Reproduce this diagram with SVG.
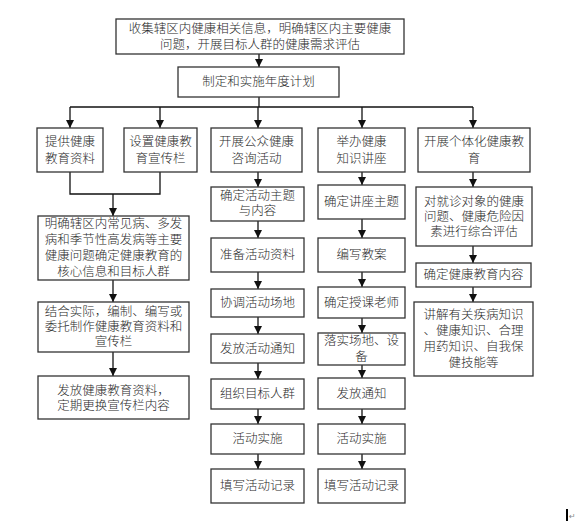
<svg xmlns="http://www.w3.org/2000/svg" width="578" height="522" viewBox="0 0 578 522">
<defs>
<style>
.b{fill:#fff;stroke:#333;stroke-width:1.3}
.t{font-family:"Liberation Serif","Noto Sans CJK SC",serif;font-size:12.5px;font-weight:300;fill:#2a2a2a;text-anchor:middle;dominant-baseline:central}
.c{fill:none;stroke:#111;stroke-width:1.3}
</style>
<marker id="ah" markerWidth="8" markerHeight="8" refX="8" refY="4" orient="auto" markerUnits="userSpaceOnUse"><path d="M0,0 L8,4 L0,8 z" fill="#111"/></marker>
</defs>
<rect width="578" height="522" fill="#fff"/>
<g id="connectors">
<line class="c" x1="259" y1="54" x2="259" y2="67" marker-end="url(#ah)"/>
<line class="c" x1="259" y1="97" x2="259" y2="107"/>
<line class="c" x1="70" y1="107" x2="473" y2="107"/>
<line class="c" x1="70" y1="107" x2="70" y2="128" marker-end="url(#ah)"/>
<line class="c" x1="160" y1="107" x2="160" y2="128" marker-end="url(#ah)"/>
<line class="c" x1="258" y1="107" x2="258" y2="128" marker-end="url(#ah)"/>
<line class="c" x1="362" y1="107" x2="362" y2="128" marker-end="url(#ah)"/>
<line class="c" x1="473" y1="107" x2="473" y2="128" marker-end="url(#ah)"/>
<polyline class="c" points="70,172 70,194 160,194 160,172"/>
<line class="c" x1="113" y1="194" x2="113" y2="216" marker-end="url(#ah)"/>
<line class="c" x1="113" y1="280" x2="113" y2="302" marker-end="url(#ah)"/>
<line class="c" x1="113" y1="352" x2="113" y2="376" marker-end="url(#ah)"/>
<line class="c" x1="258" y1="172" x2="258" y2="187" marker-end="url(#ah)"/>
<line class="c" x1="258" y1="221" x2="258" y2="238" marker-end="url(#ah)"/>
<line class="c" x1="258" y1="272" x2="258" y2="289" marker-end="url(#ah)"/>
<line class="c" x1="258" y1="317" x2="258" y2="334" marker-end="url(#ah)"/>
<line class="c" x1="258" y1="363" x2="258" y2="379" marker-end="url(#ah)"/>
<line class="c" x1="258" y1="409" x2="258" y2="424" marker-end="url(#ah)"/>
<line class="c" x1="258" y1="454" x2="258" y2="469" marker-end="url(#ah)"/>
<line class="c" x1="362" y1="172" x2="362" y2="185" marker-end="url(#ah)"/>
<line class="c" x1="362" y1="219" x2="362" y2="238" marker-end="url(#ah)"/>
<line class="c" x1="362" y1="272" x2="362" y2="287" marker-end="url(#ah)"/>
<line class="c" x1="362" y1="318" x2="362" y2="333" marker-end="url(#ah)"/>
<line class="c" x1="362" y1="365" x2="362" y2="378" marker-end="url(#ah)"/>
<line class="c" x1="362" y1="409" x2="362" y2="424" marker-end="url(#ah)"/>
<line class="c" x1="362" y1="454" x2="362" y2="469" marker-end="url(#ah)"/>
<line class="c" x1="473" y1="172" x2="473" y2="187" marker-end="url(#ah)"/>
<line class="c" x1="473" y1="246" x2="473" y2="263" marker-end="url(#ah)"/>
<line class="c" x1="473" y1="287" x2="473" y2="302" marker-end="url(#ah)"/>
</g>
<g id="n-top"><rect class="b" x="116" y="19" width="288" height="35"/>
<text class="t" x="260" y="28.5">收集辖区内健康相关信息，明确辖区内主要健康</text>
<text class="t" x="260" y="44.5">问题，开展目标人群的健康需求评估</text></g>
<g id="n-plan"><rect class="b" x="178" y="67" width="161" height="30"/>
<text class="t" x="258.5" y="82">制定和实施年度计划</text></g>
<g id="n-a"><rect class="b" x="37" y="128" width="66" height="44"/>
<text class="t" x="70" y="142">提供健康</text><text class="t" x="70" y="159">教育资料</text></g>
<g id="n-b"><rect class="b" x="124" y="128" width="73" height="44"/>
<text class="t" x="160.5" y="142">设置健康教</text><text class="t" x="160.5" y="159">育宣传栏</text></g>
<g id="n-c"><rect class="b" x="211" y="128" width="91" height="44"/>
<text class="t" x="256.5" y="142">开展公众健康</text><text class="t" x="256.5" y="159">咨询活动</text></g>
<g id="n-d"><rect class="b" x="318" y="128" width="87" height="44"/>
<text class="t" x="361.5" y="142">举办健康</text><text class="t" x="361.5" y="159">知识讲座</text></g>
<g id="n-e"><rect class="b" x="418" y="128" width="112" height="44"/>
<text class="t" x="474" y="142">开展个体化健康教</text><text class="t" x="474" y="159">育</text></g>
<g id="n-a1"><rect class="b" x="38" y="216" width="151" height="64"/>
<text class="t" x="113.5" y="224">明确辖区内常见病、多发</text>
<text class="t" x="113.5" y="240">病和季节性高发病等主要</text>
<text class="t" x="113.5" y="256">健康问题确定健康教育的</text>
<text class="t" x="113.5" y="272">核心信息和目标人群</text></g>
<g id="n-a2"><rect class="b" x="38" y="302" width="151" height="50"/>
<text class="t" x="113.5" y="312">结合实际，编制、编写或</text>
<text class="t" x="113.5" y="327">委托制作健康教育资料和</text>
<text class="t" x="113.5" y="342">宣传栏</text></g>
<g id="n-a3"><rect class="b" x="38" y="376" width="151" height="43"/>
<text class="t" x="113.5" y="390.5">发放健康教育资料，</text>
<text class="t" x="113.5" y="405.5">定期更换宣传栏内容</text></g>
<g id="n-c1"><rect class="b" x="211" y="187" width="93" height="34"/>
<text class="t" x="257.5" y="196">确定活动主题</text><text class="t" x="257.5" y="211">与内容</text></g>
<g id="n-c2"><rect class="b" x="211" y="238" width="93" height="34"/><text class="t" x="257.5" y="255">准备活动资料</text></g>
<g id="n-c3"><rect class="b" x="211" y="289" width="93" height="28"/><text class="t" x="257.5" y="303">协调活动场地</text></g>
<g id="n-c4"><rect class="b" x="211" y="334" width="93" height="29"/><text class="t" x="257.5" y="348.5">发放活动通知</text></g>
<g id="n-c5"><rect class="b" x="211" y="379" width="93" height="30"/><text class="t" x="257.5" y="394">组织目标人群</text></g>
<g id="n-c6"><rect class="b" x="211" y="424" width="93" height="30"/><text class="t" x="257.5" y="439">活动实施</text></g>
<g id="n-c7"><rect class="b" x="211" y="469" width="93" height="34"/><text class="t" x="257.5" y="486">填写活动记录</text></g>
<g id="n-d1"><rect class="b" x="318" y="185" width="87" height="34"/><text class="t" x="361.5" y="202">确定讲座主题</text></g>
<g id="n-d2"><rect class="b" x="318" y="238" width="87" height="34"/><text class="t" x="361.5" y="255">编写教案</text></g>
<g id="n-d3"><rect class="b" x="318" y="287" width="87" height="31"/><text class="t" x="361.5" y="302.5">确定授课老师</text></g>
<g id="n-d4"><rect class="b" x="318" y="333" width="87" height="32"/>
<text class="t" x="361.5" y="341">落实场地、设</text><text class="t" x="361.5" y="357">备</text></g>
<g id="n-d5"><rect class="b" x="318" y="378" width="87" height="31"/><text class="t" x="361.5" y="393.5">发放通知</text></g>
<g id="n-d6"><rect class="b" x="318" y="424" width="87" height="30"/><text class="t" x="361.5" y="439">活动实施</text></g>
<g id="n-d7"><rect class="b" x="318" y="469" width="87" height="34"/><text class="t" x="361.5" y="486">填写活动记录</text></g>
<g id="n-e1"><rect class="b" x="416" y="187" width="116" height="59"/>
<text class="t" x="474" y="202">对就诊对象的健康</text>
<text class="t" x="474" y="217">问题、健康危险因</text>
<text class="t" x="474" y="232">素进行综合评估</text></g>
<g id="n-e2"><rect class="b" x="416" y="263" width="115" height="24"/><text class="t" x="473.5" y="275">确定健康教育内容</text></g>
<g id="n-e3"><rect class="b" x="414" y="302" width="119" height="74"/>
<text class="t" x="473.5" y="315">讲解有关疾病知识</text>
<text class="t" x="473.5" y="331">、健康知识、合理</text>
<text class="t" x="473.5" y="347">用药知识、自我保</text>
<text class="t" x="473.5" y="363">健技能等</text></g>
<line x1="567" y1="509" x2="567" y2="521" stroke="#000" stroke-width="2"/>
<text x="569" y="519" font-family="DejaVu Sans,sans-serif" font-size="8" fill="#888">↵</text>
</svg>
